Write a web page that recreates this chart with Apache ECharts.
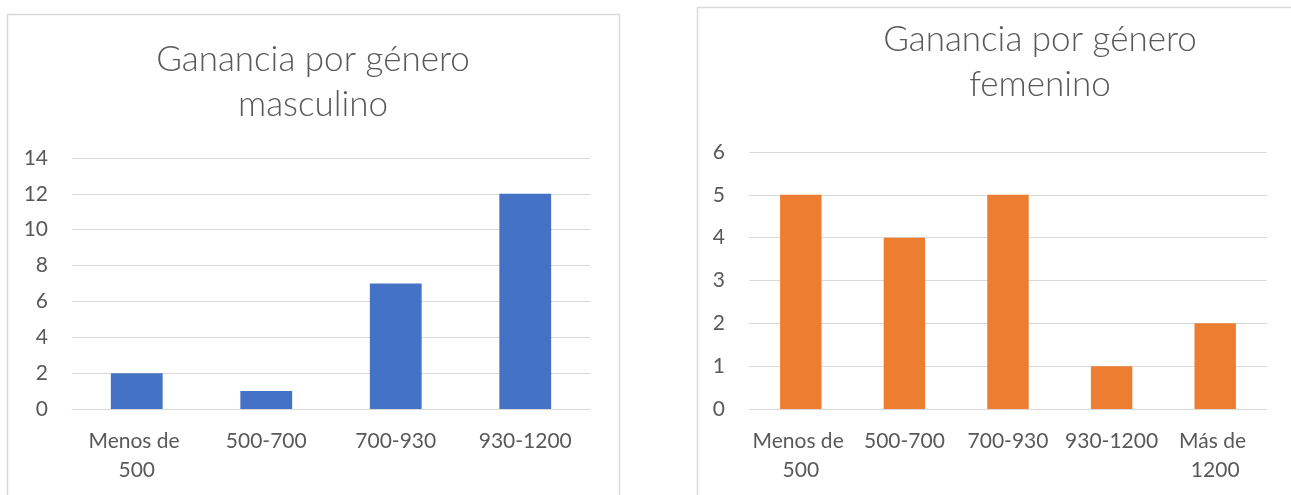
<!DOCTYPE html>
<html>
<head>
<meta charset="utf-8">
<script src="https://cdn.jsdelivr.net/npm/echarts@6/dist/echarts.min.js"></script>
<style>
  html, body { margin: 0; padding: 0; background: #ffffff; overflow: hidden; }
  #plot { width: 1291px; height: 495px; }
</style>
</head>
<body>
<div id="plot"></div>
<script>
// Data
const maleCategories = ["Menos de 500", "500-700", "700-930", "930-1200"];
const maleValues = [2, 1, 7, 12];

const femaleCategories = ["Menos de 500", "500-700", "700-930", "930-1200", "Más de 1200"];
const femaleValues = [5, 4, 5, 1, 2];

const maleTitle = "Ganancia por género\nmasculino";
const femaleTitle = "Ganancia por género\nfemenino";

const textColor = "#595959";
const lineColor = "#D9D9D9";
const fontFamily = "Lato, 'Open Sans', sans-serif";

const chart = echarts.init(document.getElementById("plot"));

// Shared axis styles
function catAxis(gridIndex, data, labelWidth) {
  return {
    type: "category",
    gridIndex: gridIndex,
    data: data,
    axisTick: { show: false },
    axisLine: { lineStyle: { color: lineColor, width: 1 } },
    axisLabel: {
      color: textColor,
      fontFamily: fontFamily,
      fontSize: 21,
      lineHeight: 29,
      margin: 18,
      width: labelWidth,
      overflow: "break",
      interval: 0
    }
  };
}

function valAxis(gridIndex, max, interval) {
  return {
    type: "value",
    gridIndex: gridIndex,
    min: 0,
    max: max,
    interval: interval,
    axisLine: { show: false },
    axisTick: { show: false },
    splitLine: { lineStyle: { color: lineColor, width: 1 } },
    axisLabel: {
      color: textColor,
      fontFamily: fontFamily,
      fontSize: 21,
      margin: 24
    }
  };
}

const option = {
  animation: false,
  backgroundColor: "#ffffff",

  // Chart frames and titles
  graphic: [
    { type: "rect", shape: { x: 7.5, y: 14.5, width: 612, height: 520 }, style: { fill: "none", stroke: lineColor, lineWidth: 1.5 } },
    { type: "rect", shape: { x: 697.5, y: 7.5, width: 700, height: 520 }, style: { fill: "none", stroke: lineColor, lineWidth: 1.5 } },
    { type: "text", x: 313, y: 37, style: { text: maleTitle, textAlign: "center", fill: textColor, font: "300 35px " + fontFamily, lineHeight: 45 } },
    { type: "text", x: 1040, y: 17, style: { text: femaleTitle, textAlign: "center", fill: textColor, font: "300 35px " + fontFamily, lineHeight: 45 } }
  ],

  grid: [
    { left: 72, right: 701, top: 158, bottom: 86 },
    { left: 749, right: 24, top: 152, bottom: 86 }
  ],

  xAxis: [
    catAxis(0, maleCategories, 115),
    catAxis(1, femaleCategories, 102)
  ],

  yAxis: [
    valAxis(0, 14, 2),
    valAxis(1, 6, 1)
  ],

  series: [
    {
      name: "masculino",
      type: "bar",
      xAxisIndex: 0,
      yAxisIndex: 0,
      data: maleValues,
      barWidth: "40%",
      itemStyle: { color: "#4472C4" }
    },
    {
      name: "femenino",
      type: "bar",
      xAxisIndex: 1,
      yAxisIndex: 1,
      data: femaleValues,
      barWidth: "40%",
      itemStyle: { color: "#ED7D31" }
    }
  ]
};

chart.setOption(option);
</script>
</body>
</html>
